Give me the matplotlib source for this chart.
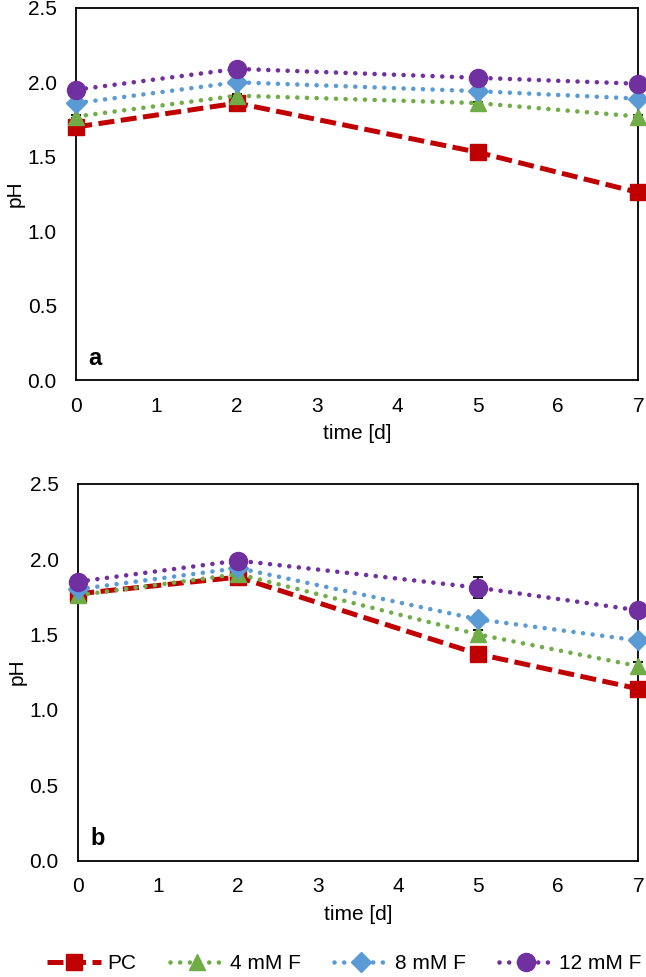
import matplotlib
matplotlib.use("Agg")
import matplotlib.pyplot as plt
from matplotlib.lines import Line2D

plt.rcParams['font.family'] = ['Liberation Sans', 'DejaVu Sans']

# time points
days = [0, 2, 5, 7]
series_names = ['PC', '4 mM F', '8 mM F', '12 mM F']

# panel a
a_pc = [1.70, 1.86, 1.53, 1.26]
a_f4 = [1.77, 1.91, 1.86, 1.77]
a_f8 = [1.86, 2.00, 1.94, 1.89]
a_f12 = [1.95, 2.09, 2.03, 1.99]
a_err = [[0.02, 0.02, 0.02, 0.02], [0.01, 0.01, 0.01, 0.01],
         [0.01, 0.01, 0.01, 0.01], [0.01, 0.01, 0.01, 0.01]]

# panel b
b_pc = [1.77, 1.88, 1.37, 1.14]
b_f4 = [1.76, 1.90, 1.50, 1.29]
b_f8 = [1.80, 1.94, 1.60, 1.46]
b_f12 = [1.85, 1.99, 1.81, 1.66]
b_err = [[0.01, 0.01, 0.03, 0.01], [0.01, 0.01, 0.03, 0.03],
         [0.01, 0.01, 0.03, 0.01], [0.01, 0.01, 0.07, 0.01]]

colors = ['#C00000', '#70AD47', '#5B9BD5', '#7030A0']
markers = ['s', '^', 'D', 'o']
msizes = [12, 12, 10, 13]
FS = 15

fig = plt.figure(figsize=(6.46, 9.77), dpi=100)
ax_a = fig.add_axes([0.118, 0.611, 0.870, 0.381])
ax_b = fig.add_axes([0.121, 0.119, 0.867, 0.386])


def style_line(i):
    if i == 0:
        return dict(linewidth=3.6, linestyle=(0, (3.2, 1.3)), dash_capstyle='butt')
    return dict(linewidth=3.3, linestyle=(0, (0.01, 2.1)), dash_capstyle='round')


def draw_panel(ax, data, errs, label):
    for i, ys in enumerate(data):
        ax.errorbar(days, ys, yerr=errs[i], color=colors[i], ecolor='black',
                    elinewidth=1.3, capsize=3.5, capthick=1.3,
                    marker=markers[i], markersize=msizes[i],
                    clip_on=False, zorder=3 + i, **style_line(i))
    ax.set_xlim(0, 7)
    ax.set_ylim(0, 2.5)
    ax.set_xticks(range(8))
    ax.set_yticks([0, 0.5, 1.0, 1.5, 2.0, 2.5])
    ax.set_yticklabels(['0.0', '0.5', '1.0', '1.5', '2.0', '2.5'])
    ax.tick_params(length=0, labelsize=FS, pad=12)
    ax.tick_params(axis='y', pad=14)
    for s in ax.spines.values():
        s.set_linewidth(1.3)
    ax.set_xlabel('time [d]', fontsize=FS, labelpad=6)
    ax.set_ylabel('pH', fontsize=FS, labelpad=2)
    ax.text(0.15, 0.07, label, fontsize=17, fontweight='bold',
            transform=ax.transData, va='bottom')


draw_panel(ax_a, [a_pc, a_f4, a_f8, a_f12], a_err, 'a')
draw_panel(ax_b, [b_pc, b_f4, b_f8, b_f12], b_err, 'b')

handles = []
for i, name in enumerate(series_names):
    handles.append(Line2D([], [], color=colors[i], marker=markers[i],
                          markersize=msizes[i], label=name, **style_line(i)))
fig.legend(handles=handles, loc='center', bbox_to_anchor=(0.533, 0.014),
           ncol=4, frameon=False, fontsize=FS, handlelength=2.6,
           handletextpad=0.3, columnspacing=1.6)

fig.savefig('out.png', dpi=100)
